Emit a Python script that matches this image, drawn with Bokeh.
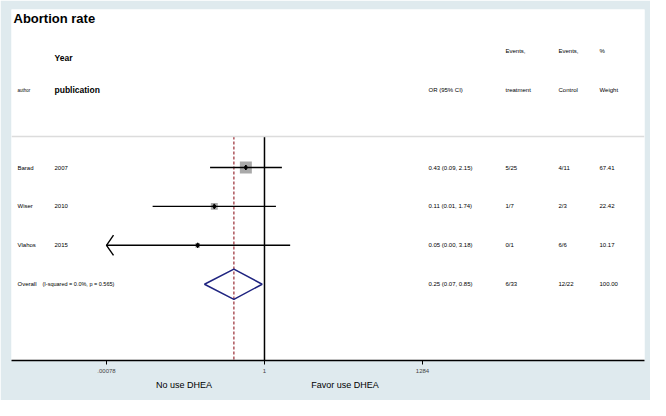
from bokeh.plotting import figure
from bokeh.models import Range1d, FixedTicker, Label, Span, LogAxis
from bokeh.embed import file_html
from bokeh.resources import INLINE

# ---------------- data ----------------
title_text = "Abortion rate"
studies = ["Barad", "Wiser", "Vlahos"]
years = ["2007", "2010", "2015"]
or_est = [0.43, 0.103, 0.0485]
ci_low = [0.085, 0.0063, 0.00078]     # Vlahos lower bound runs off the axis -> arrow
ci_high = [2.2, 1.68, 3.2]
or_ci_text = ["0.43 (0.09, 2.15)", "0.11 (0.01, 1.74)", "0.05 (0.00, 3.18)"]
events_treat = ["5/25", "1/7", "0/1"]
events_ctrl = ["4/11", "2/3", "6/6"]
weights = [67.41, 22.42, 10.17]

overall_est = 0.25
overall_low = 0.066
overall_high = 0.9
overall_label = "Overall"
overall_het = "(I-squared = 0.0%, p = 0.565)"
overall_or_text = "0.25 (0.07, 0.85)"
overall_treat = "6/33"
overall_ctrl = "12/22"
overall_weight = "100.00"

tick_values = [0.00078, 1, 1284]
tick_labels = [".00078", "1", "1284"]
favor_labels = ["No use DHEA", "Favor use DHEA"]
favor_positions = [10 ** -1.584, 10 ** 1.584]

# ---------------- layout constants ----------------
FONT = "Liberation Sans"
BG = "#dfeaee"
rows = [1, 2, 3]
overall_row = 4
y_top, y_bottom = -3.062, 5.961
sep_y = 0.203

p = figure(width=650, height=400, x_axis_type="log",
           x_range=Range1d(10 ** -4.977, 10 ** 7.476),
           y_range=Range1d(y_bottom, y_top),
           y_axis_location=None,
           output_backend="svg", toolbar_location=None,
           min_border_left=11, min_border_right=6,
           min_border_top=9, min_border_bottom=40)
p.border_fill_color = BG
p.background_fill_color = "white"
p.outline_line_color = None
p.xgrid.visible = False
p.ygrid.visible = False

ax = p.xaxis[0]
ax.ticker = FixedTicker(ticks=tick_values, minor_ticks=[])
ax.major_label_overrides = {v: l for v, l in zip(tick_values, tick_labels)}
ax.axis_line_color = "black"
ax.axis_line_width = 1.5
ax.major_tick_line_color = "black"
ax.major_tick_line_width = 1
ax.major_tick_out = 4
ax.major_tick_in = 0
ax.minor_tick_line_color = None
ax.major_label_text_font = FONT
ax.major_label_text_font_size = "6px"
ax.major_label_standoff = 4

# second (label-only) axis below carrying the favour captions
ax2 = LogAxis(ticker=FixedTicker(ticks=favor_positions, minor_ticks=[]),
              major_label_overrides={v: l for v, l in zip(favor_positions, favor_labels)},
              axis_line_color=None, major_tick_line_color=None, minor_tick_line_color=None,
              major_tick_out=0, major_tick_in=0,
              major_label_text_font=FONT, major_label_text_font_size="9px",
              major_label_text_color="black", major_label_standoff=4)
p.add_layout(ax2, "below")

# separator under the header
p.add_layout(Span(location=sep_y, dimension="width", line_color="#dcdcdc", line_width=1.5))

# null line and overall-effect line
p.segment(x0=[1], y0=[sep_y], x1=[1], y1=[y_bottom], line_color="black", line_width=1.5)
p.segment(x0=[overall_est], y0=[sep_y], x1=[overall_est], y1=[y_bottom],
          line_color="#a03a42", line_width=1.3, line_dash="3 2")

# weight boxes (area proportional to weight)
box_sizes = [1.46 * w ** 0.5 for w in weights]
p.scatter(x=or_est, y=rows, size=box_sizes, marker="square",
          fill_color="#a9a9a9", line_color=None)

# confidence intervals
p.segment(x0=ci_low, y0=rows, x1=ci_high, y1=rows, line_color="black", line_width=1.4)

# arrow for CI running off the left of the axis
arrow_xs, arrow_ys = [], []
for lo, y in zip(ci_low, rows):
    if lo <= tick_values[0]:
        arm = lo * 10 ** (7 / 50.83)
        arrow_xs.append([arm, lo, arm])
        arrow_ys.append([y - 0.26, y, y + 0.26])
p.multi_line(xs=arrow_xs, ys=arrow_ys, line_color="black", line_width=1.4)

# point estimates
p.scatter(x=or_est, y=rows, size=5, marker="diamond", fill_color="black", line_color="black")

# overall diamond
p.patch(x=[overall_low, overall_est, overall_high, overall_est],
        y=[overall_row, overall_row - 0.39, overall_row, overall_row + 0.39],
        fill_color="white", fill_alpha=0.0, line_color="#1f2480", line_width=1.5)

# ---------------- texts ----------------
def lab(text, sx, y, size="6px", bold=False, align="left"):
    p.add_layout(Label(x=sx, y=y, x_units="screen", y_units="data", text=text,
                       text_font=FONT, text_font_size=size,
                       text_font_style="bold" if bold else "normal",
                       text_align=align, text_baseline="middle", text_color="black"))

col_author, col_year, col_or, col_treat, col_ctrl, col_w = 6, 43, 417, 494, 547, 588

lab(title_text, 2, -2.838, size="13px", bold=True)
lab("Year", col_year, -1.828, size="8.5px", bold=True)
lab("author", col_author, -0.992, size="4.5px")
lab("publication", col_year, -0.992, size="8.5px", bold=True)
lab("OR (95% CI)", col_or, -0.992)
lab("Events,", col_treat, -2.008)
lab("treatment", col_treat, -0.992)
lab("Events,", col_ctrl, -2.008)
lab("Control", col_ctrl, -0.992)
lab("%", col_w, -2.008)
lab("Weight", col_w, -0.992)

for i, y in enumerate(rows):
    lab(studies[i], col_author, y)
    lab(years[i], col_year, y)
    lab(or_ci_text[i], col_or, y)
    lab(events_treat[i], col_treat, y)
    lab(events_ctrl[i], col_ctrl, y)
    lab(f"{weights[i]:.2f}", col_w, y)

lab(overall_label, col_author, overall_row)
lab(overall_het, 31, overall_row, size="5.5px")
lab(overall_or_text, col_or, overall_row)
lab(overall_treat, col_treat, overall_row)
lab(overall_ctrl, col_ctrl, overall_row)
lab(overall_weight, col_w, overall_row)

open("out.html", "w").write(file_html(p, INLINE))
